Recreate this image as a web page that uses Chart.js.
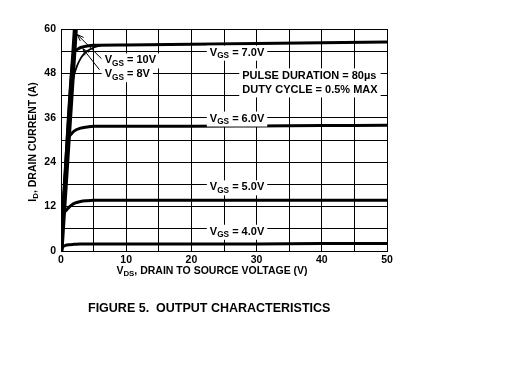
<!DOCTYPE html>
<html>
<head>
<meta charset="utf-8">
<script src="https://cdn.jsdelivr.net/npm/chart.js@4/dist/chart.umd.min.js"></script>
<style>
html,body{margin:0;padding:0;background:#fff;}
#wrap{width:512px;height:384px;position:relative;}
</style>
</head>
<body>
<div id="wrap"><canvas id="c" width="512" height="384"></canvas></div>
<script>
// ---- data ----
const xTicks = [0, 10, 20, 30, 40, 50];
const yTicks = [0, 12, 24, 36, 48, 60];

const vds10 = [0, 2.2];
const id10  = [0, 60];

const vds8 = [1.6, 2.0, 2.5, 3.0, 3.5, 4.0, 5.0, 6.0];
const id8  = [43.7, 47.5, 50.2, 52.0, 53.2, 54.0, 55.0, 55.5];

const vds7 = [0, 1.95, 2.5, 3, 4, 5, 10, 20, 30, 40, 50];
const id7  = [0, 53.2, 54.5, 55.0, 55.4, 55.6, 55.7, 55.9, 56.1, 56.3, 56.5];

const vds6 = [0, 1.1, 1.5, 2, 3, 4, 5, 10, 20, 30, 40, 50];
const id6  = [0, 30.0, 31.5, 32.4, 33.2, 33.5, 33.7, 33.7, 33.7, 33.8, 33.9, 34.0];

const vds5 = [0, 0.35, 0.7, 1.1, 1.6, 2.2, 3, 4, 5, 10, 20, 30, 40, 50];
const id5  = [0, 9.5, 10.8, 11.6, 12.4, 13.0, 13.4, 13.6, 13.7, 13.7, 13.7, 13.7, 13.7, 13.7];

const vds4 = [0, 0.3, 0.7, 1.2, 2, 3, 5, 10, 20, 30, 40, 50];
const id4  = [0, 1.1, 1.5, 1.7, 1.8, 1.9, 1.9, 1.9, 1.9, 1.9, 2.0, 2.0];

// curve labels: [text, isSubscript] parts, position in data units (centre x, y)
const curveLabels = [
  {parts:[["V",0],["GS",1],[" = 7.0V",0]], x:27, y:53.6},
  {parts:[["V",0],["GS",1],[" = 6.0V",0]], x:27, y:35.8},
  {parts:[["V",0],["GS",1],[" = 5.0V",0]], x:27, y:17.2},
  {parts:[["V",0],["GS",1],[" = 4.0V",0]], x:27, y:5.2}
];
const leftLabels = [
  {parts:[["V",0],["GS",1],[" = 10V",0]], x:6.7, y:51.5},
  {parts:[["V",0],["GS",1],[" = 8V",0]], x:6.7, y:47.8}
];
const noteLines = ["PULSE DURATION = 80\u00B5s", "DUTY CYCLE = 0.5% MAX"];
const noteY = [47.2, 43.4];
const noteX = 27.8;
// arrows: tail (x,y) -> tip (x,y) in data units
const arrows = [
  {x0:6.2, y0:52.0, x1:2.5, y1:58.5},
  {x0:5.9, y0:49.0, x1:3.35, y1:54.7}
];
const xTitle = [["V",0],["DS",1],[", DRAIN TO SOURCE VOLTAGE (V)",0]];
const yTitle = [["I",0],["D",1],[", DRAIN CURRENT (A)",0]];
const caption = "FIGURE 5.  OUTPUT CHARACTERISTICS";

const FONT = '"Liberation Sans", Arial, Helvetica, sans-serif';

function pts(xs, ys){ return xs.map((v,i)=>({x:v, y:ys[i]})); }

function richWidth(ctx, parts, size){
  let w = 0;
  for (const [t,s] of parts){
    ctx.font = 'bold ' + (s ? size*0.75 : size) + 'px ' + FONT;
    w += ctx.measureText(t).width;
  }
  return w;
}
function drawRich(ctx, parts, x, y, size, align){
  const w = richWidth(ctx, parts, size);
  let cx = align === 'center' ? x - w/2 : (align === 'right' ? x - w : x);
  ctx.textBaseline = 'middle';
  ctx.textAlign = 'left';
  for (const [t,s] of parts){
    ctx.font = 'bold ' + (s ? size*0.75 : size) + 'px ' + FONT;
    ctx.fillText(t, cx, s ? y + size*0.3 : y);
    cx += ctx.measureText(t).width;
  }
}

const annot = {
  id: 'annot',
  afterDatasetsDraw(chart){
    const ctx = chart.ctx;
    const sx = chart.scales.x, sy = chart.scales.y;
    ctx.save();
    ctx.fillStyle = '#000';
    const S = 11;
    for (const L of curveLabels){
      const px = sx.getPixelForValue(L.x), py = sy.getPixelForValue(L.y);
      const w = richWidth(ctx, L.parts, S);
      ctx.fillStyle = '#fff';
      ctx.fillRect(px - w/2 - 3, py - 7, w + 6, 15);
      ctx.fillStyle = '#000';
      drawRich(ctx, L.parts, px, py, S, 'center');
    }
    for (const L of leftLabels){
      const px = sx.getPixelForValue(L.x), py = sy.getPixelForValue(L.y);
      const w = richWidth(ctx, L.parts, S);
      ctx.fillStyle = '#fff';
      ctx.fillRect(px - 3, py - 7, w + 6, 15);
      ctx.fillStyle = '#000';
      drawRich(ctx, L.parts, px, py, S, 'left');
    }
    ctx.font = 'bold ' + S + 'px ' + FONT;
    let nw = 0;
    noteLines.forEach(t => { nw = Math.max(nw, ctx.measureText(t).width); });
    const nx = sx.getPixelForValue(noteX);
    const ny0 = sy.getPixelForValue(noteY[0]), ny1 = sy.getPixelForValue(noteY[1]);
    ctx.fillStyle = '#fff';
    ctx.fillRect(nx - 3, ny0 - 8, nw + 6, ny1 - ny0 + 15);
    ctx.fillStyle = '#000';
    ctx.textAlign = 'left'; ctx.textBaseline = 'middle';
    noteLines.forEach((t,i) => ctx.fillText(t, nx, sy.getPixelForValue(noteY[i])));
    ctx.strokeStyle = '#000'; ctx.lineWidth = 1;
    for (const A of arrows){
      const x0 = sx.getPixelForValue(A.x0), y0 = sy.getPixelForValue(A.y0);
      const x1 = sx.getPixelForValue(A.x1), y1 = sy.getPixelForValue(A.y1);
      ctx.beginPath(); ctx.moveTo(x0,y0); ctx.lineTo(x1,y1); ctx.stroke();
      const ang = Math.atan2(y1-y0, x1-x0), h = 7;
      ctx.beginPath();
      ctx.moveTo(x1 - h*Math.cos(ang - 0.35), y1 - h*Math.sin(ang - 0.35));
      ctx.lineTo(x1, y1);
      ctx.lineTo(x1 - h*Math.cos(ang + 0.35), y1 - h*Math.sin(ang + 0.35));
      ctx.stroke();
    }
    const ca = chart.chartArea;
    drawRich(ctx, xTitle, (ca.left + ca.right)/2 - 12, 271, 10.5, 'center');
    ctx.save();
    ctx.translate(33, 142);
    ctx.rotate(-Math.PI/2);
    drawRich(ctx, yTitle, 0, 0, 10.5, 'center');
    ctx.restore();
    ctx.font = 'bold 12.5px ' + FONT;
    ctx.textAlign = 'left'; ctx.textBaseline = 'middle';
    ctx.fillText(caption, 88, 309);
    ctx.restore();
  }
};

const common = {borderColor:'#000', backgroundColor:'#000', pointRadius:0, fill:false,
  cubicInterpolationMode:'monotone', borderCapStyle:'round', borderJoinStyle:'round'};

new Chart(document.getElementById('c'), {
  type: 'line',
  data: {
    datasets: [
      Object.assign({label:'VGS=10V', data: pts(vds10, id10), borderWidth:5}, common),
      Object.assign({label:'VGS=8V', data: pts(vds8, id8), borderWidth:1.8}, common),
      Object.assign({label:'VGS=7.0V', data: pts(vds7, id7), borderWidth:3}, common),
      Object.assign({label:'VGS=6.0V', data: pts(vds6, id6), borderWidth:3}, common),
      Object.assign({label:'VGS=5.0V', data: pts(vds5, id5), borderWidth:3}, common),
      Object.assign({label:'VGS=4.0V', data: pts(vds4, id4), borderWidth:3}, common)
    ]
  },
  options: {
    responsive: false,
    animation: false,
    devicePixelRatio: 1,
    layout: {padding: {left: 0, top: 29, right: 125, bottom: 103}},
    plugins: {legend:{display:false}, tooltip:{enabled:false}, title:{display:false}},
    scales: {
      x: {
        type: 'linear', min: 0, max: 50,
        afterFit(s){ s.height = 30; },
        ticks: {stepSize: 5, autoSkip:false, maxRotation:0, padding: 3, color:'#000',
          font:{family: FONT, size: 10.5, weight:'bold'},
          callback: v => xTicks.includes(v) ? String(v) : ''},
        grid: {color:'#000', lineWidth:1, drawTicks:false},
        border: {color:'#000', width:1}
      },
      y: {
        type: 'linear', min: 0, max: 60,
        afterFit(s){ s.width = 61; },
        ticks: {stepSize: 6, autoSkip:false, padding: 5, color:'#000',
          font:{family: FONT, size: 10.5, weight:'bold'},
          callback: v => yTicks.includes(v) ? String(v) : ''},
        grid: {color:'#000', lineWidth:1, drawTicks:false},
        border: {color:'#000', width:1}
      }
    }
  },
  plugins: [annot]
});
</script>
</body>
</html>
